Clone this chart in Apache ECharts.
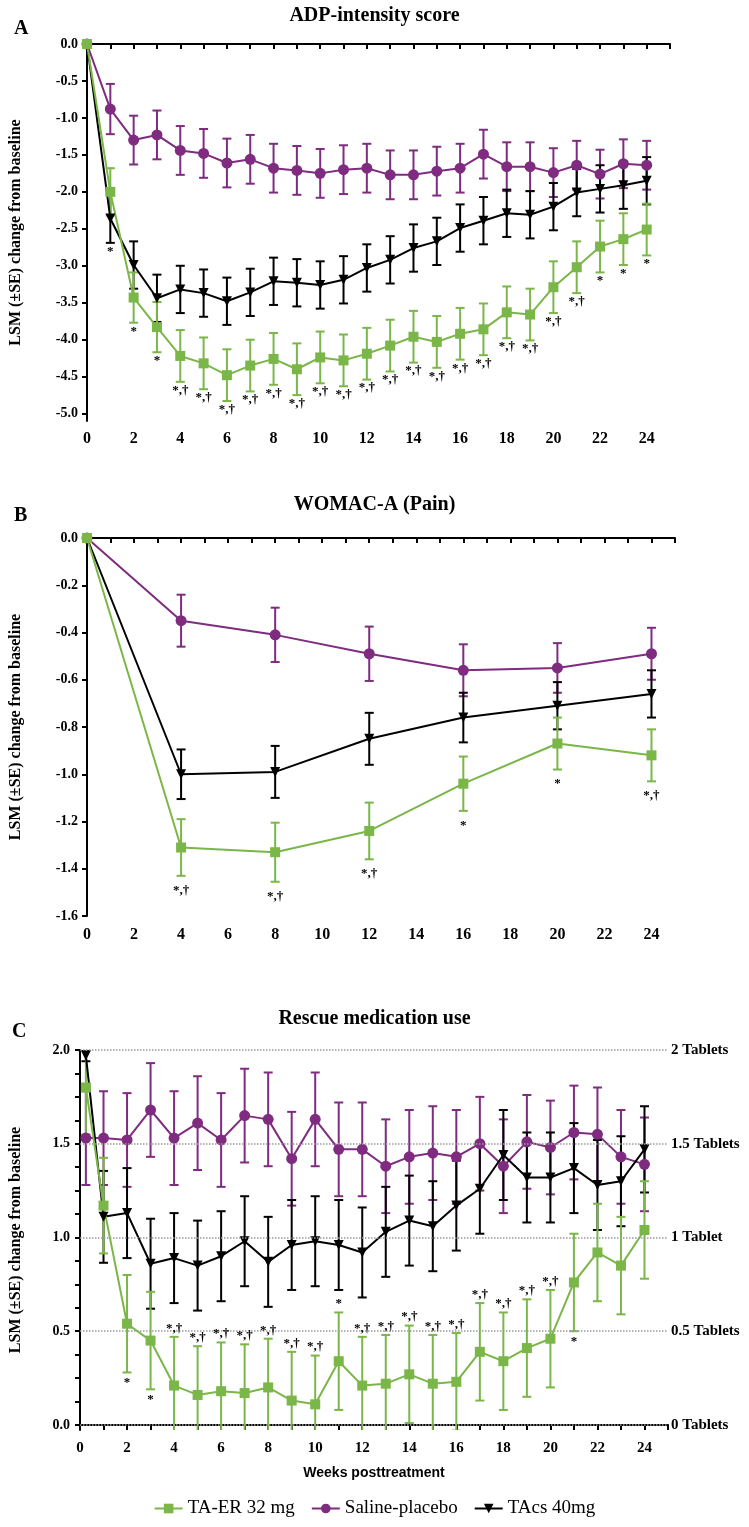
<!DOCTYPE html>
<html><head><meta charset="utf-8">
<script src="https://cdn.jsdelivr.net/npm/echarts@6/dist/echarts.min.js"></script>
<style>html,body{margin:0;padding:0;background:#fff}#c{width:749px;height:1527px}</style>
</head><body><div id="c"></div>
<script>
// ---------- DATA ----------
const seriesNames = ['TA-ER 32 mg', 'Saline-placebo', 'TAcs 40mg'];
const xTickLabels = [0,2,4,6,8,10,12,14,16,18,20,22,24];
const xTickMarks = [0,1,2,3,4,5,6,7,8,9,10,11,12,13,14,15,16,17,18,19,20,21,22,23,24,25];

// Panel A: ADP-intensity score
const weeksA = [0,1,2,3,4,5,6,7,8,9,10,11,12,13,14,15,16,17,18,19,20,21,22,23,24];
const aTaer    = [0,-2.00,-3.43,-3.83,-4.22,-4.32,-4.48,-4.35,-4.26,-4.40,-4.24,-4.28,-4.19,-4.08,-3.96,-4.03,-3.92,-3.86,-3.63,-3.66,-3.29,-3.02,-2.74,-2.64,-2.51];
const aTaerSE  = [0,0.32,0.34,0.34,0.35,0.35,0.35,0.35,0.35,0.35,0.35,0.35,0.35,0.35,0.35,0.35,0.35,0.35,0.35,0.35,0.35,0.35,0.35,0.35,0.35];
const aPlac    = [0,-0.88,-1.30,-1.23,-1.44,-1.48,-1.61,-1.56,-1.68,-1.71,-1.75,-1.70,-1.68,-1.77,-1.77,-1.72,-1.68,-1.49,-1.66,-1.66,-1.74,-1.64,-1.76,-1.62,-1.64];
const aPlacSE  = [0,0.34,0.33,0.33,0.33,0.33,0.33,0.33,0.33,0.33,0.33,0.33,0.33,0.33,0.33,0.33,0.33,0.33,0.33,0.33,0.33,0.33,0.33,0.33,0.33];
const aTacs    = [0,-2.36,-2.99,-3.44,-3.32,-3.37,-3.48,-3.36,-3.21,-3.23,-3.26,-3.19,-3.03,-2.92,-2.76,-2.67,-2.49,-2.39,-2.29,-2.31,-2.20,-2.01,-1.96,-1.91,-1.85];
const aTacsSE  = [0,0.33,0.32,0.32,0.32,0.32,0.32,0.32,0.32,0.32,0.32,0.32,0.32,0.32,0.32,0.32,0.32,0.32,0.32,0.32,0.32,0.32,0.32,0.32,0.32];
const aNotes   = ['','*','*','*','*,†','*,†','*,†','*,†','*,†','*,†','*,†','*,†','*,†','*,†','*,†','*,†','*,†','*,†','*,†','*,†','*,†','*,†','*','*','*'];
const yTicksA  = [0,-0.5,-1,-1.5,-2,-2.5,-3,-3.5,-4,-4.5,-5];

// Panel B: WOMAC-A (Pain)
const weeksB = [0,4,8,12,16,20,24];
const bTaer   = [0,-1.31,-1.33,-1.24,-1.04,-0.87,-0.92];
const bTaerSE = [0,0.12,0.125,0.12,0.115,0.11,0.11];
const bPlac   = [0,-0.35,-0.41,-0.49,-0.56,-0.55,-0.49];
const bPlacSE = [0,0.11,0.115,0.115,0.11,0.105,0.11];
const bTacs   = [0,-1.00,-0.99,-0.85,-0.76,-0.71,-0.66];
const bTacsSE = [0,0.105,0.11,0.11,0.105,0.10,0.10];
const bNotes  = ['','*,†','*,†','*,†','*','*','*,†'];

// Panel C: Rescue medication use
const weeksC = [0.25,1,2,3,4,5,6,7,8,9,10,11,12,13,14,15,16,17,18,19,20,21,22,23,24];
const cTaer   = [1.80,1.17,0.54,0.45,0.21,0.16,0.18,0.17,0.20,0.13,0.11,0.34,0.21,0.22,0.27,0.22,0.23,0.39,0.34,0.41,0.46,0.76,0.92,0.85,1.04];
const cTaerSE = [0.25,0.255,0.26,0.26,0.26,0.26,0.26,0.26,0.26,0.26,0.26,0.26,0.26,0.26,0.26,0.26,0.26,0.26,0.26,0.26,0.26,0.26,0.26,0.26,0.26];
const cPlac   = [1.53,1.53,1.52,1.68,1.53,1.61,1.52,1.65,1.63,1.42,1.63,1.47,1.47,1.38,1.43,1.45,1.43,1.50,1.38,1.51,1.48,1.56,1.55,1.43,1.39];
const cPlacSE = [0.25,0.25,0.25,0.25,0.25,0.25,0.25,0.25,0.25,0.25,0.25,0.25,0.25,0.25,0.25,0.25,0.25,0.25,0.25,0.25,0.25,0.25,0.25,0.25,0.25];
const cTacs   = [1.97,1.11,1.13,0.86,0.89,0.85,0.90,0.98,0.87,0.96,0.98,0.96,0.92,1.03,1.09,1.06,1.17,1.26,1.44,1.32,1.32,1.37,1.28,1.30,1.47];
const cTacsSE = [0.03,0.245,0.24,0.24,0.24,0.24,0.24,0.24,0.24,0.24,0.24,0.24,0.24,0.24,0.24,0.24,0.24,0.24,0.24,0.24,0.24,0.24,0.24,0.24,0.23];
const cNotes  = ['','','*','*','*,†','*,†','*,†','*,†','*,†','*,†','*,†','*','*,†','*,†','*,†','*,†','*,†','*,†','*,†','*,†','*,†','*','','',''];
const cNotePos= ['','','below','below','above','above','above','above','above','above','above','above','above','above','above','above','above','above','above','above','above','below','','',''];
const yLabelsC = [0,0.5,1,1.5,2];
const yTicksC  = [0,0.125,0.25,0.375,0.5,0.625,0.75,0.875,1,1.125,1.25,1.375,1.5,1.625,1.75,1.875,2];
const tabletLevels = [0,0.5,1,1.5,2];
const tabletLabels = ['0 Tablets','0.5 Tablets','1 Tablet','1.5 Tablets','2 Tablets'];

// ---------- STYLE ----------
const SERIF = '"Liberation Serif","Times New Roman",serif';
const GREEN = '#7ab648', PURPLE = '#7e2b80', BLACK = '#000000';
const colors = [GREEN, PURPLE, BLACK];
const symbols = ['rect','circle','triangle'];
const symSizes = [10,11,10];
const symRot = [0,0,180];

function lineSeries(k, idx, xs, vals) {
  return {
    type:'line', name: seriesNames[k], xAxisIndex: idx, yAxisIndex: idx,
    data: xs.map((x,i)=>[x, vals[i]]),
    symbol: symbols[k], symbolSize: symSizes[k], symbolRotate: symRot[k], showSymbol:true,
    lineStyle:{color: colors[k], width:2}, itemStyle:{color: colors[k]},
    z: 4, animation:false, silent:true
  };
}
function errSeries(k, idx, xs, vals, ses) {
  const data = [];
  xs.forEach((x,i)=>{ if (ses[i] > 0) data.push([x, vals[i]-ses[i], vals[i]+ses[i]]); });
  const color = colors[k];
  return {
    type:'custom', xAxisIndex: idx, yAxisIndex: idx, data, z:3, silent:true, animation:false, clip:true,
    encode:{x:0, y:[1,2]},
    renderItem(params, api) {
      const x = api.value(0);
      const lo = api.coord([x, api.value(1)]), hi = api.coord([x, api.value(2)]);
      const w = 4.5, st = {stroke: color, lineWidth: 2, fill: null};
      return {type:'group', children:[
        {type:'line', shape:{x1:lo[0],y1:lo[1],x2:hi[0],y2:hi[1]}, style:st},
        {type:'line', shape:{x1:lo[0]-w,y1:lo[1],x2:lo[0]+w,y2:lo[1]}, style:st},
        {type:'line', shape:{x1:hi[0]-w,y1:hi[1],x2:hi[0]+w,y2:hi[1]}, style:st}
      ]};
    }
  };
}
function noteSeries(idx, pts, texts, positions, offBelow, offAbove) {
  return {
    type:'custom', xAxisIndex: idx, yAxisIndex: idx, data: pts, z:5, silent:true, animation:false, clip:false,
    encode:{x:0, y:1},
    renderItem(params, api) {
      const i = params.dataIndex;
      const t = texts[i];
      if (!t) return null;
      const p = api.coord([api.value(0), api.value(1)]);
      const above = positions[i] === 'above';
      return {type:'text', x: p[0], y: above ? p[1] - offAbove : p[1] + offBelow,
        style:{text: t, fill:'#000', font: 'bold 13px ' + SERIF, align:'center', verticalAlign: above ? 'bottom' : 'top'}};
    }
  };
}

const axisLineStyle = {lineStyle:{color:'#000', width:2}};
const tickStyle = {lineStyle:{color:'#000', width:2}};
function xAxisCfg(idx, margin, size) {
  return {type:'value', gridIndex: idx, min:0, max:25,
    axisLine: {show:true, ...axisLineStyle}, splitLine:{show:false},
    axisTick: {show:true, customValues: xTickMarks, length:5, ...tickStyle},
    axisLabel: {customValues: xTickLabels, margin, color:'#000', fontFamily: SERIF, fontWeight:'bold', fontSize: size}
  };
}
const yName = 'LSM (±SE) change from baseline';
function yNameCfg(gap) {
  return {name: yName, nameLocation:'middle', nameGap: gap, nameRotate: 90,
    nameTextStyle:{color:'#000', fontFamily: SERIF, fontWeight:'bold', fontSize:16}};
}

// annotation anchors
const aPts = weeksA.map((w,i)=>[w, Math.min(aTaer[i]-aTaerSE[i], aPlac[i]-aPlacSE[i], aTacs[i]-aTacsSE[i])]);
const aPos = aNotes.map(()=> 'below');
const bPts = weeksB.map((w,i)=>[w, bTaer[i]-bTaerSE[i]]);
const bPos = bNotes.map(()=> 'below');
const cPts = weeksC.map((w,i)=>[w, cNotePos[i]==='above' ? cTaer[i]+cTaerSE[i] : cTaer[i]-cTaerSE[i]]);

const titleFont = {color:'#000', fontFamily: SERIF, fontWeight:'bold', fontSize:20};
const option = {
  backgroundColor:'#fff',
  animation:false,
  title: [
    {text:'ADP-intensity score', left:'center', top:1, textStyle:titleFont},
    {text:'A', left:9, top:14, textStyle:titleFont},
    {text:'WOMAC-A (Pain)', left:'center', top:490, textStyle:titleFont},
    {text:'B', left:9, top:501, textStyle:titleFont},
    {text:'Rescue medication use', left:'center', top:1004, textStyle:titleFont},
    {text:'C', left:7, top:1017, textStyle:titleFont}
  ],
  legend: {
    data: seriesNames, bottom: 4, left:'center', itemWidth: 28, itemHeight: 12, itemGap: 16,
    textStyle:{color:'#000', fontFamily: SERIF, fontSize:19}
  },
  grid: [
    {left:81, top:44, width:589, height:377},
    {left:81, top:538, width:594, height:378},
    {left:73, top:1050, width:595, height:380}
  ],
  xAxis: [
    xAxisCfg(0, 10, 16),
    xAxisCfg(1, 11, 16),
    Object.assign(xAxisCfg(2, 11, 15), {name:'Weeks posttreatment', nameLocation:'middle', nameGap:36,
      nameTextStyle:{color:'#000', fontFamily:'"Liberation Sans",Arial,sans-serif', fontWeight:'bold', fontSize:14}})
  ],
  yAxis: [
    Object.assign({type:'value', gridIndex:0, min:-5.1, max:0,
      axisLine:{show:true, ...axisLineStyle}, splitLine:{show:false},
      axisTick:{show:true, customValues: yTicksA, length:5, ...tickStyle},
      axisLabel:{customValues: yTicksA, margin:9, formatter: v => v.toFixed(1), color:'#000', fontFamily: SERIF, fontWeight:'bold', fontSize:14}
    }, yNameCfg(63)),
    Object.assign({type:'value', gridIndex:1, min:-1.6, max:0, interval:0.2,
      axisLine:{show:true, ...axisLineStyle}, splitLine:{show:false},
      axisTick:{show:true, length:5, ...tickStyle},
      axisLabel:{margin:9, formatter: v => v.toFixed(1), color:'#000', fontFamily: SERIF, fontWeight:'bold', fontSize:14}
    }, yNameCfg(63)),
    Object.assign({type:'value', gridIndex:2, min:-0.027, max:2,
      axisLine:{show:true, ...axisLineStyle}, splitLine:{show:false},
      axisTick:{show:true, customValues: yTicksC, length:5, ...tickStyle},
      axisLabel:{customValues: yLabelsC, margin:10, formatter: v => v.toFixed(1), color:'#000', fontFamily: SERIF, fontWeight:'bold', fontSize:14}
    }, yNameCfg(56))
  ],
  series: [
    // reference dotted lines for panel C
    {type:'line', xAxisIndex:2, yAxisIndex:2, data:[], z:1, silent:true, animation:false,
      markLine:{silent:true, symbol:['none','none'], animation:false,
        lineStyle:{type:'dotted', color:'#9a9a9a', width:1.5},
        label:{show:true, position:'end', distance:3, color:'#000', fontFamily: SERIF, fontWeight:'bold', fontSize:15,
          formatter: p => tabletLabels[tabletLevels.indexOf(p.value)]},
        data: tabletLevels.map(v => ({yAxis: v}))
      }},
    // panel A
    errSeries(1,0,weeksA,aPlac,aPlacSE), errSeries(2,0,weeksA,aTacs,aTacsSE), errSeries(0,0,weeksA,aTaer,aTaerSE),
    lineSeries(1,0,weeksA,aPlac), lineSeries(2,0,weeksA,aTacs), lineSeries(0,0,weeksA,aTaer),
    noteSeries(0, aPts, aNotes, aPos, 2, 2),
    // panel B
    errSeries(1,1,weeksB,bPlac,bPlacSE), errSeries(2,1,weeksB,bTacs,bTacsSE), errSeries(0,1,weeksB,bTaer,bTaerSE),
    lineSeries(1,1,weeksB,bPlac), lineSeries(2,1,weeksB,bTacs), lineSeries(0,1,weeksB,bTaer),
    noteSeries(1, bPts, bNotes, bPos, 8, 2),
    // panel C
    errSeries(1,2,weeksC,cPlac,cPlacSE), errSeries(2,2,weeksC,cTacs,cTacsSE), errSeries(0,2,weeksC,cTaer,cTaerSE),
    lineSeries(1,2,weeksC,cPlac), lineSeries(2,2,weeksC,cTacs), lineSeries(0,2,weeksC,cTaer),
    noteSeries(2, cPts, cNotes, cNotePos, 4, 2)
  ]
};
const chart = echarts.init(document.getElementById('c'), null, {renderer:'canvas'});
chart.setOption(option);
</script>
</body></html>
